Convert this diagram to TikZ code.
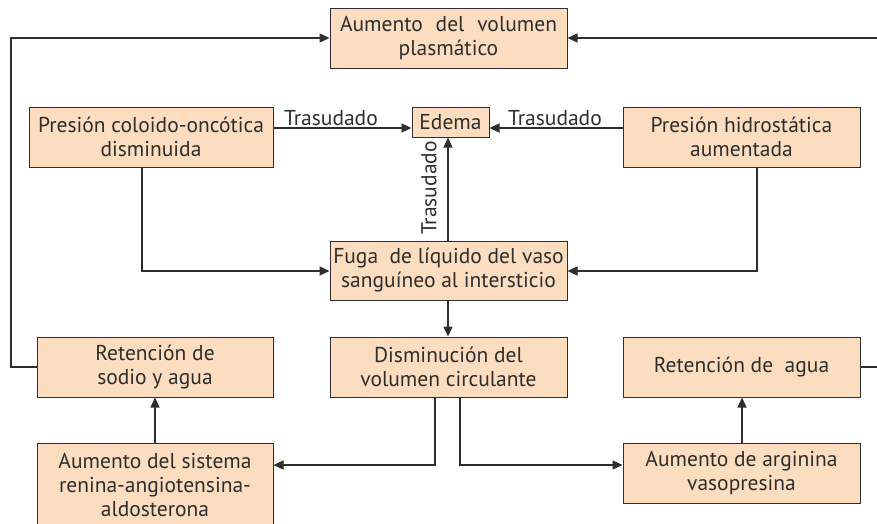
\documentclass[tikz,border=0pt]{standalone}
\usepackage{fontspec}
\setmainfont{PT Sans}
\usetikzlibrary{arrows.meta}
\definecolor{boxfill}{HTML}{FCDDC0}
\definecolor{ink}{HTML}{2E2E2E}
\begin{document}
\begin{tikzpicture}[x=1pt,y=-1pt,
  bx/.style={draw=ink, line width=1pt, fill=boxfill, text=ink, inner sep=2pt,
    font=\fontsize{21.5}{24}\selectfont, align=center, minimum width=#1},
  bx/.default=237pt,
  arr/.style={draw=ink, line width=1.3pt, -{Triangle[length=10pt,width=9pt]}},
  lab/.style={text=ink, font=\fontsize{21.5}{24}\selectfont, inner sep=0pt}]
\useasboundingbox (0,0) rectangle (877,523);
\clip (0,0) rectangle (877,523);
\node[bx, minimum height=60pt] (top) at (448.5,38) {\makebox[217pt][s]{Aumento del volumen}\\plasmático};
\node[bx=244pt, minimum height=60pt] (pco) at (151,137) {Presión coloido-oncótica\\disminuida};
\node[bx=77pt, minimum height=30pt] (ed) at (450.5,122) {Edema};
\node[bx, minimum height=60pt] (ph) at (741.5,137) {Presión hidrostática\\aumentada};
\node[bx, minimum height=59pt] (fuga) at (448.5,270.5) {Fuga\ \ de líquido del vaso\\sanguíneo al intersticio};
\node[bx, minimum height=60pt] (dism) at (448.5,367) {Disminución del\\volumen circulante};
\node[bx=236pt, minimum height=60pt] (rs) at (155,367) {Retención de\\sodio y agua};
\node[bx=236pt, minimum height=82pt, anchor=north] (ras) at (155,443) {Aumento del sistema\\renina-angiotensina-\\aldosterona};
\node[bx, minimum height=60pt] (ra) at (741.5,367) {Retención de\ \ agua};
\node[bx, minimum height=60pt] (avp) at (741.5,473) {Aumento de arginina\\vasopresina};
% edema inputs
\draw[arr] (pco.east |- {(0,128)}) -- (ed.west |- {(0,128)});
\draw[arr] (ph.west |- {(0,128)}) -- (ed.east |- {(0,128)});
\draw[arr] (fuga.north -| {(448,0)}) -- (ed.south -| {(448,0)});
\node[lab, anchor=south] (t1) at (331,126) {Trasudado};
\node[lab, anchor=south] (t2) at (555,126) {Trasudado};
\node[lab, rotate=90] (t3) at (429,188) {Trasudado};
% into fuga
\draw[arr] (pco.south -| {(142,0)}) |- (fuga.west |- {(0,271)});
\draw[arr] (ph.south -| {(757,0)}) |- (fuga.east |- {(0,271)});
\draw[arr] (fuga.south -| {(448,0)}) -- (dism.north -| {(448,0)});
% from dism
\draw[arr] (dism.south -| {(435,0)}) |- (ras.east |- {(0,465)});
\draw[arr] (dism.south -| {(460,0)}) |- (avp.west |- {(0,465)});
\draw[arr] (ras.north) -- (rs.south);
\draw[arr] (avp.north -| {(742,0)}) -- (ra.south -| {(742,0)});
% feedback
\coordinate (cl) at (11,367);
\coordinate (cr) at (880,367);
\draw[arr] (rs.west) -- (cl) |- (top.west);
\draw[arr] (ra.east) -- (cr) |- (top.east);
\end{tikzpicture}
\end{document}
